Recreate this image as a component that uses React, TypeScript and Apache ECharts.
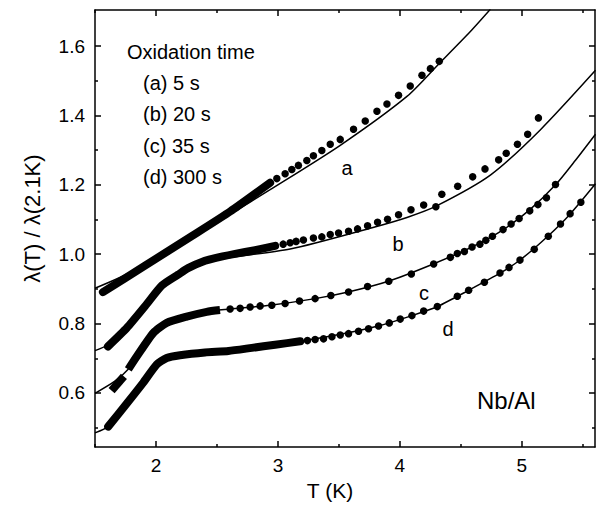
import React, { useEffect, useRef } from "react";
import * as echarts from "echarts";

// ---------- axis ticks ----------
const xMajor = [2, 3, 4, 5];
const xMinor = [1.5, 2.5, 3.5, 4.5, 5.5];
const yMajor = [0.6, 0.8, 1.0, 1.2, 1.4, 1.6];
const yMinor = [0.5, 0.7, 0.9, 1.1, 1.3, 1.5];

// ---------- (a) 5 s ----------
const aBandT = [1.565, 1.91, 2.293, 2.608, 2.936];
const aBandY = [0.891, 0.967, 1.052, 1.123, 1.206];
const aDotT = [2.991, 3.059, 3.114, 3.168, 3.237, 3.291, 3.36, 3.429, 3.511, 3.62, 3.716, 3.812, 3.894, 3.989, 4.085, 4.181, 4.25, 4.323];
const aDotY = [1.218, 1.232, 1.244, 1.256, 1.27, 1.284, 1.299, 1.317, 1.331, 1.36, 1.384, 1.412, 1.433, 1.458, 1.485, 1.516, 1.535, 1.556];
const aFitT = [1.5, 1.704, 1.91, 2.296, 2.608, 2.936, 3.511, 4.058, 4.323, 4.578, 4.742];
const aFitY = [0.902, 0.933, 0.97, 1.049, 1.115, 1.186, 1.314, 1.455, 1.55, 1.642, 1.706];

// ---------- (b) 20 s ----------
const bBandT = [1.606, 1.762, 1.91, 2.049, 2.181, 2.263, 2.402, 2.484, 2.649, 2.813, 2.977];
const bBandY = [0.734, 0.788, 0.85, 0.91, 0.941, 0.96, 0.981, 0.989, 1.001, 1.012, 1.024];
const bDotT = [3.043, 3.1, 3.149, 3.209, 3.291, 3.36, 3.429, 3.497, 3.579, 3.653, 3.735, 3.817, 3.899, 3.989, 4.091, 4.195, 4.295, 4.344, 4.474, 4.597, 4.698, 4.81, 4.872, 4.964, 5.048, 5.136];
const bDotY = [1.029, 1.033, 1.037, 1.041, 1.047, 1.05, 1.057, 1.061, 1.066, 1.073, 1.082, 1.092, 1.101, 1.114, 1.128, 1.142, 1.137, 1.173, 1.196, 1.223, 1.246, 1.272, 1.291, 1.317, 1.346, 1.393];
const bFitT = [1.5, 1.606, 1.77, 2.041, 2.263, 2.484, 3.1, 3.757, 4.058, 4.305, 4.742, 5.153, 5.604];
const bFitY = [0.722, 0.739, 0.793, 0.907, 0.958, 0.984, 1.015, 1.075, 1.106, 1.14, 1.228, 1.359, 1.53];

// ---------- (c) 35 s ----------
const cDashT = [1.636, 1.737];
const cDashY = [0.607, 0.648];
const cBandT = [1.773, 1.842, 1.978, 2.088, 2.252, 2.416, 2.525];
const cBandY = [0.668, 0.705, 0.773, 0.802, 0.82, 0.834, 0.839];
const cDotT = [2.608, 2.69, 2.772, 2.854, 2.95, 3.059, 3.177, 3.305, 3.434, 3.579, 3.735, 3.909, 4.094, 4.277, 4.414, 4.471, 4.529, 4.592, 4.656, 4.705, 4.759, 4.846, 4.912, 4.978, 5.065, 5.132, 5.202, 5.276];
const cDotY = [0.842, 0.844, 0.848, 0.851, 0.853, 0.858, 0.865, 0.872, 0.881, 0.891, 0.907, 0.922, 0.943, 0.972, 0.991, 1.002, 1.008, 1.021, 1.029, 1.04, 1.052, 1.071, 1.087, 1.103, 1.125, 1.143, 1.163, 1.201];
const cFitT = [1.5, 1.663, 1.77, 1.844, 1.975, 2.09, 2.255, 2.419, 2.608, 2.936, 3.305, 3.576, 3.905, 4.274, 4.592, 4.849, 5.071, 5.276, 5.44, 5.604];
const cFitY = [0.599, 0.634, 0.668, 0.705, 0.773, 0.802, 0.82, 0.835, 0.842, 0.853, 0.872, 0.891, 0.922, 0.972, 1.021, 1.071, 1.13, 1.2, 1.271, 1.346];

// ---------- (d) 300 s ----------
const dBandT = [1.608, 1.759, 1.896, 2.006, 2.088, 2.197, 2.402, 2.594, 2.786, 2.977, 3.182];
const dBandY = [0.503, 0.569, 0.63, 0.682, 0.701, 0.709, 0.717, 0.721, 0.73, 0.739, 0.749];
const dDotT = [3.242, 3.305, 3.374, 3.443, 3.511, 3.579, 3.661, 3.743, 3.825, 3.913, 4.003, 4.099, 4.195, 4.307, 4.471, 4.564, 4.693, 4.821, 4.895, 4.985, 5.102, 5.217, 5.317, 5.396, 5.484];
const dDotY = [0.751, 0.754, 0.756, 0.762, 0.767, 0.771, 0.778, 0.785, 0.793, 0.802, 0.813, 0.823, 0.836, 0.849, 0.879, 0.896, 0.919, 0.946, 0.962, 0.983, 1.014, 1.052, 1.087, 1.117, 1.15];
const dFitT = [1.5, 1.606, 1.762, 1.893, 2.008, 2.09, 2.197, 2.443, 2.714, 2.961, 3.182, 3.511, 3.823, 4.099, 4.313, 4.564, 4.824, 4.988, 5.213, 5.399, 5.604];
const dFitY = [0.485, 0.503, 0.569, 0.631, 0.682, 0.702, 0.711, 0.72, 0.73, 0.739, 0.749, 0.769, 0.793, 0.823, 0.85, 0.896, 0.946, 0.984, 1.052, 1.117, 1.203];

const legendTitle = "Oxidation time";
const legendItems = ["(a) 5 s", "(b) 20 s", "(c) 35 s", "(d) 300 s"];
const curveLabels = ["a", "b", "c", "d"];
const sampleLabel = "Nb/Al";

const FONT = '"Liberation Sans", Arial, Helvetica, sans-serif';
const X_MIN = 1.5, X_MAX = 5.6, Y_MIN = 0.444, Y_MAX = 1.704;

const pairs = (t: number[], y: number[]) => t.map((v, i) => [v, y[i]]);

const fit = (t: number[], y: number[]) => ({
  type: "line", data: pairs(t, y), smooth: 0.25, symbol: "none",
  lineStyle: { color: "#000", width: 1.5 }, silent: true, z: 2,
});
const band = (t: number[], y: number[], cap = "round") => ({
  type: "line", data: pairs(t, y), smooth: 0.2, symbol: "none",
  lineStyle: { color: "#000", width: 8, cap, join: "round" }, silent: true, z: 3,
});
const dots = (t: number[], y: number[]) => ({
  type: "scatter", data: pairs(t, y), symbol: "circle", symbolSize: 7.5,
  itemStyle: { color: "#000", opacity: 1 }, silent: true, z: 3,
});

const lineStyle = { color: "#000", width: 1.5 };

function xAx(position: string, values: number[], len: number, main: boolean) {
  return {
    type: "value", min: X_MIN, max: X_MAX, position,
    axisLine: { show: main, onZero: false, lineStyle },
    splitLine: { show: false },
    axisTick: { show: true, inside: true, length: len, customValues: values, lineStyle },
    axisLabel: main && position === "bottom"
      ? { show: true, customValues: xMajor, color: "#000", fontFamily: FONT, fontSize: 19, margin: 9, formatter: (v: number) => String(v) }
      : { show: false },
    ...(main && position === "bottom"
      ? { name: "T (K)", nameLocation: "middle", nameGap: 27, nameTextStyle: { color: "#000", fontFamily: FONT, fontSize: 21, padding: [0, 30, 0, 0] } }
      : {}),
  };
}
function yAx(position: string, values: number[], len: number, main: boolean) {
  return {
    type: "value", min: Y_MIN, max: Y_MAX, position,
    axisLine: { show: main, onZero: false, lineStyle },
    splitLine: { show: false },
    axisTick: { show: true, inside: true, length: len, customValues: values, lineStyle },
    axisLabel: main && position === "left"
      ? { show: true, customValues: yMajor, color: "#000", fontFamily: FONT, fontSize: 19, margin: 10, formatter: (v: number) => v.toFixed(1) }
      : { show: false },
    ...(main && position === "left"
      ? { name: "λ(T) / λ(2.1K)", nameLocation: "middle", nameGap: 52, nameTextStyle: { color: "#000", fontFamily: FONT, fontSize: 22, padding: [0, 0, 0, 20] } }
      : {}),
  };
}

export default function App() {
  const ref = useRef<HTMLDivElement>(null);
  useEffect(() => {
    if (!ref.current) return;
    const chart = echarts.init(ref.current, null, { renderer: "svg" });
    const txt = (text: string, x: number, y: number, size: number, align = "left") => ({
      type: "text", x, y, silent: true,
      style: { text, fontSize: size, fontFamily: FONT, fill: "#000", align, verticalAlign: "middle" },
    });
    const legendY = [83, 114, 146, 177];
    const labelPos = [[347, 168], [398, 244], [424, 293], [448, 329]];
    chart.setOption({
      animation: false,
      backgroundColor: "#fff",
      grid: { left: 95, right: 5, top: 10, bottom: 52, containLabel: false },
      xAxis: [
        xAx("bottom", xMajor, 6, true),
        xAx("bottom", xMinor, 3, false),
        xAx("top", xMajor, 6, true),
        xAx("top", xMinor, 3, false),
      ],
      yAxis: [
        yAx("left", yMajor, 6, true),
        yAx("left", yMinor, 3, false),
        yAx("right", yMajor, 6, true),
        yAx("right", yMinor, 3, false),
      ],
      series: [
        fit(aFitT, aFitY), fit(bFitT, bFitY), fit(cFitT, cFitY), fit(dFitT, dFitY),
        band(aBandT, aBandY), band(bBandT, bBandY), band(cDashT, cDashY, "butt"), band(cBandT, cBandY, "butt"), band(dBandT, dBandY),
        dots(aDotT, aDotY), dots(bDotT, bDotY), dots(cDotT, cDotY), dots(dDotT, dDotY),
      ],
      graphic: [
        txt(legendTitle, 127, 52, 20),
        ...legendItems.map((s, i) => txt(s, 143, legendY[i], 20)),
        ...curveLabels.map((s, i) => txt(s, labelPos[i][0], labelPos[i][1], 20, "center")),
        txt(sampleLabel, 477, 400, 24),
      ],
    });
    return () => chart.dispose();
  }, []);
  return <div ref={ref} style={{ position: "absolute", left: 0, top: 0, width: 600, height: 506, background: "#fff" }} />;
}
